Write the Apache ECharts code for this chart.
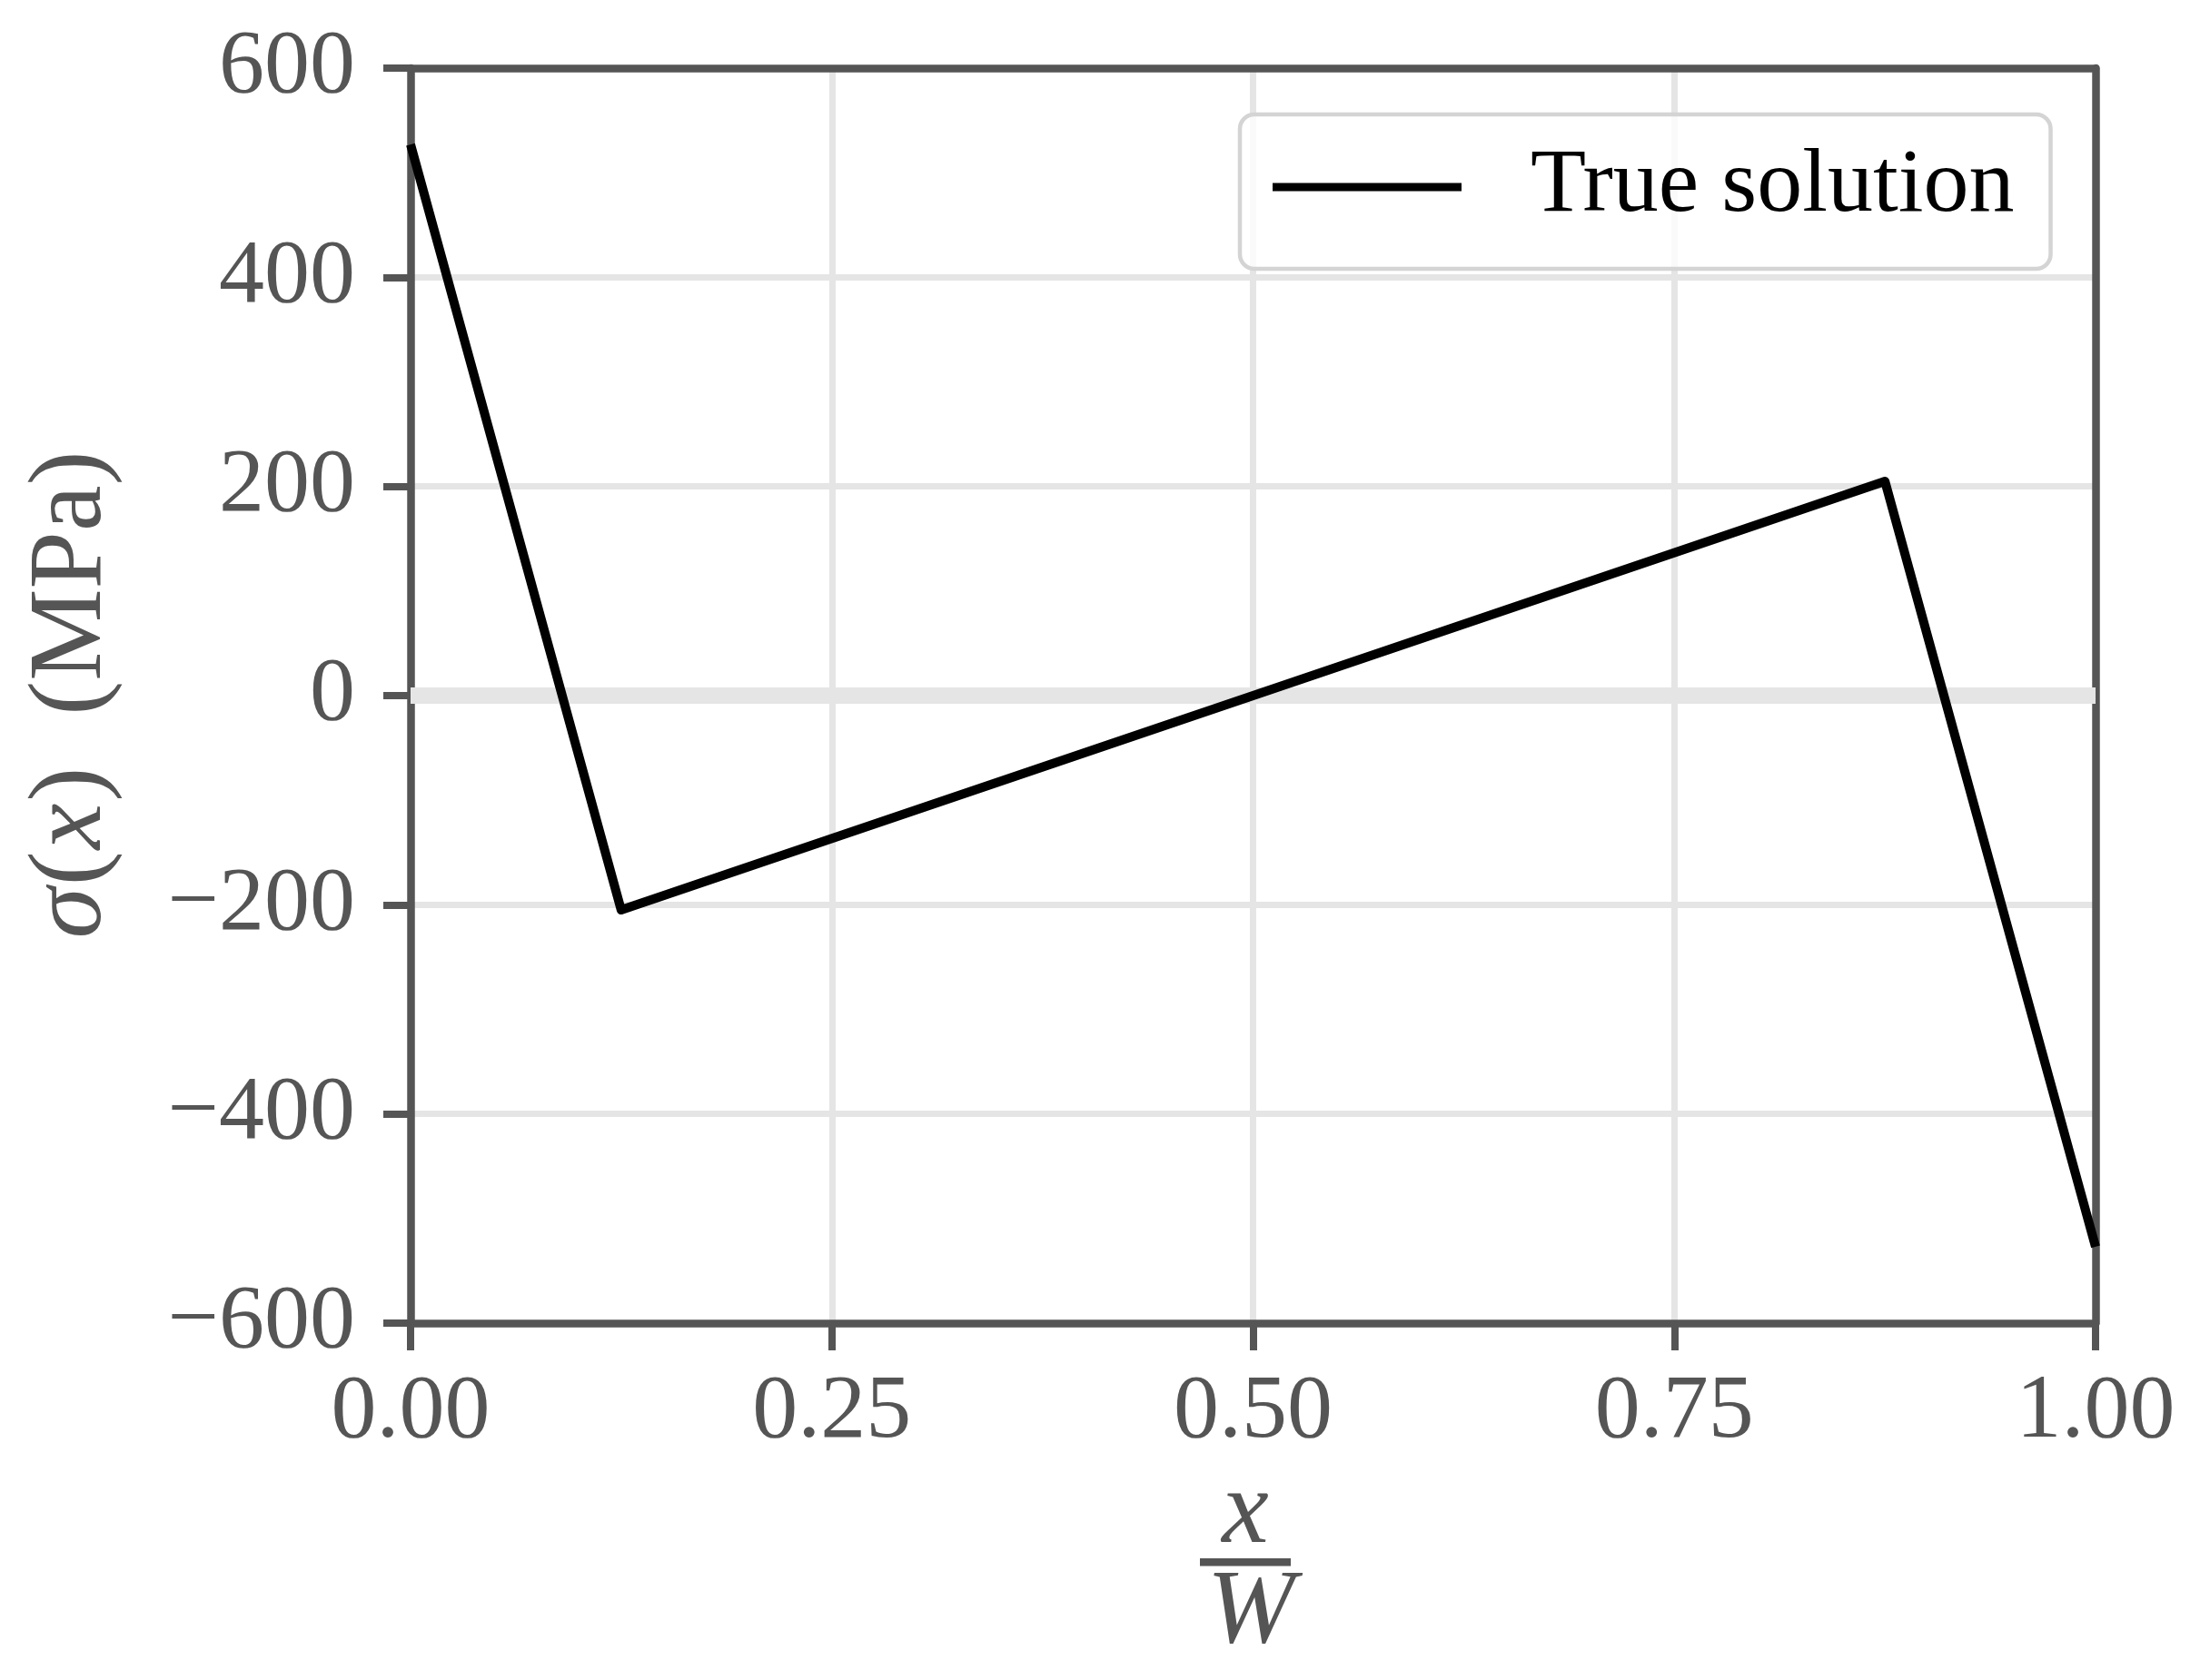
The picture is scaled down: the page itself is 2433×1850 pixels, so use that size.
<!DOCTYPE html>
<html>
<head>
<meta charset="utf-8">
<script src="https://cdn.jsdelivr.net/npm/echarts@6/dist/echarts.min.js"></script>
<style>
  html, body { margin: 0; padding: 0; background: #fff; }
  #chart { width: 2433px; height: 1850px; }
</style>
</head>
<body>
<div id="chart"></div>
<script>
// x / W positions and stress values (MPa)
var xPos = [0, 0.125, 0.875, 1];
var sigma = [527, -205, 205, -527];
var xTicks = [0, 0.25, 0.5, 0.75, 1];
var yTicks = [-600, -400, -200, 0, 200, 400, 600];

var axisColor = '#555555';
var gridColor = '#e5e5e5';
var font = 'Liberation Serif';

var chart = echarts.init(document.getElementById('chart'));

var lineData = xPos.map(function (x, i) { return [x, sigma[i]]; });

var option = {
  backgroundColor: '#ffffff',
  animation: false,
  grid: {
    left: 452,
    right: 126,
    top: 75,
    bottom: 393
  },
  legend: {
    data: [{ name: 'True solution', icon: 'path://M0,0H208V9H0Z' }],
    left: 1365,
    top: 126,
    padding: [30, 40, 40, 36],
    itemWidth: 208,
    itemHeight: 100,
    symbolKeepAspect: true,
    itemStyle: { color: '#000000', borderWidth: 0 },
    backgroundColor: 'rgba(255,255,255,0.8)',
    borderColor: '#d4d4d4',
    borderWidth: 4.5,
    borderRadius: 16,
    textStyle: {
      fontFamily: font,
      fontSize: 100,
      color: '#000',
      padding: [0, 0, 0, 71]
    }
  },
  xAxis: [
    {
      type: 'value',
      min: 0,
      max: 1,
      interval: 0.25,
      axisLine: { show: true, onZero: false, lineStyle: { color: axisColor, width: 8.5 } },
      axisTick: { show: true, length: 30, lineStyle: { color: axisColor, width: 8 } },
      axisLabel: {
        margin: 49,
        fontFamily: font,
        fontSize: 100,
        color: axisColor,
        formatter: function (v) { return v.toFixed(2); }
      },
      splitLine: { show: true, lineStyle: { color: gridColor, width: 7 } }
    },
    {
      type: 'value',
      position: 'top',
      min: 0,
      max: 1,
      axisLine: { show: true, onZero: false, lineStyle: { color: axisColor, width: 8.5 } },
      axisTick: { show: false },
      axisLabel: { show: false },
      splitLine: { show: false }
    }
  ],
  yAxis: [
    {
      type: 'value',
      min: -600,
      max: 600,
      interval: 200,
      name: '{i|σ}({i|x})  (MPa)',
      nameLocation: 'middle',
      nameRotate: 90,
      nameGap: 315,
      nameTextStyle: {
        fontFamily: font,
        fontSize: 114,
        color: axisColor,
        rich: {
          i: { fontFamily: font, fontSize: 114, fontStyle: 'italic', color: axisColor, padding: [0, 2, 0, 2] }
        }
      },
      axisLine: { show: true, onZero: false, lineStyle: { color: axisColor, width: 8.5 } },
      axisTick: { show: true, length: 30, lineStyle: { color: axisColor, width: 8 } },
      axisLabel: {
        margin: 61,
        fontFamily: font,
        fontSize: 100,
        color: axisColor,
        formatter: function (v) { return String(v).replace('-', '\u2212'); }
      },
      splitLine: { show: true, lineStyle: { color: gridColor, width: 7 } }
    },
    {
      type: 'value',
      position: 'right',
      min: -600,
      max: 600,
      axisLine: { show: true, onZero: false, lineStyle: { color: axisColor, width: 8.5 } },
      axisTick: { show: false },
      axisLabel: { show: false },
      splitLine: { show: false }
    }
  ],
  graphic: [
    {
      type: 'group',
      left: 1321,
      top: 1609,
      children: [
        {
          type: 'text',
          x: 50,
          y: 0,
          style: {
            text: 'x',
            fontFamily: font,
            fontStyle: 'italic',
            fontSize: 116,
            fill: axisColor,
            align: 'center',
            verticalAlign: 'top'
          }
        },
        {
          type: 'rect',
          shape: { x: 0, y: 107, width: 100, height: 8.5 },
          style: { fill: axisColor }
        },
        {
          type: 'text',
          x: 56,
          y: 110,
          style: {
            text: 'W',
            fontFamily: font,
            fontStyle: 'italic',
            fontSize: 116,
            fill: axisColor,
            align: 'center',
            verticalAlign: 'top'
          }
        }
      ]
    }
  ],
  series: [
    {
      name: 'zero',
      type: 'line',
      data: [[0, 0], [1, 0]],
      symbol: 'none',
      silent: true,
      z: 1,
      lineStyle: { color: gridColor, width: 18 }
    },
    {
      name: 'True solution',
      type: 'line',
      data: lineData,
      symbol: 'none',
      z: 3,
      itemStyle: { color: '#000000' },
      lineStyle: { color: '#000000', width: 10, join: 'round' }
    }
  ]
};

chart.setOption(option);
</script>
</body>
</html>
